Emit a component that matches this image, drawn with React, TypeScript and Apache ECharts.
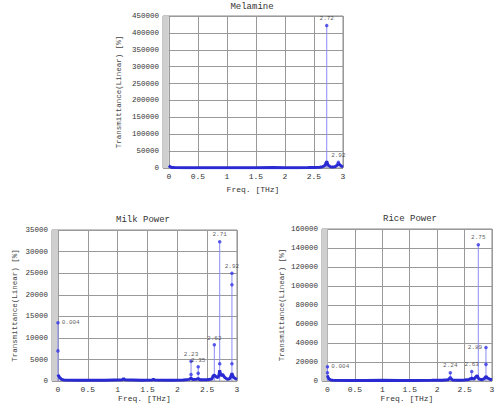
import React, { useEffect, useRef } from "react";
import * as echarts from "echarts";

const FONT = '"Liberation Mono", "DejaVu Sans Mono", monospace';

const xTicks = [0, 0.5, 1, 1.5, 2, 2.5, 3];
const yName = "Transmittance(Linear) [%]";
const xName = "Freq. [THz]";
const titles = ["Melamine", "Milk Power", "Rice Power"];

// Melamine
const melBaseFreq = [0, 0.02, 0.05, 0.1, 0.3, 0.5, 0.8, 1.0, 1.2, 1.5, 1.8, 2.0, 2.2, 2.4, 2.5, 2.6, 2.65, 2.68, 2.7, 2.72, 2.74, 2.78, 2.82, 2.86, 2.9, 2.92, 2.94, 2.97, 3.0];
const melBaseVal = [7000, 4000, 1500, 1200, 1000, 900, 1000, 1100, 900, 1000, 1200, 1100, 1000, 1300, 1500, 2500, 4000, 6000, 12000, 20000, 9000, 4000, 3000, 3500, 8000, 15000, 10000, 6000, 3000];
const melPeakFreq = [2.72];
const melPeakVal = [422000];
const melMarkFreq = [2.72, 2.92];
const melMarkVal = [422000, 17000];
const melMarkLabel = ["2.72", "2.92"];

// Milk Power
const milkBaseFreq = [0, 0.01, 0.03, 0.06, 0.1, 0.3, 0.5, 0.8, 1.08, 1.1, 1.12, 1.4, 1.58, 1.6, 1.62, 1.9, 2.1, 2.2, 2.23, 2.26, 2.32, 2.35, 2.38, 2.5, 2.58, 2.6, 2.62, 2.65, 2.68, 2.7, 2.71, 2.73, 2.76, 2.79, 2.84, 2.88, 2.9, 2.915, 2.94, 2.97, 3.0];
const milkBaseVal = [1500, 1200, 800, 400, 250, 200, 180, 200, 300, 600, 300, 200, 250, 450, 250, 200, 250, 400, 700, 350, 400, 600, 300, 300, 500, 1200, 1400, 1000, 800, 1500, 2500, 1200, 1600, 900, 400, 600, 1200, 1800, 900, 600, 400];
const milkPeakFreq = [0, 2.23, 2.35, 2.62, 2.71, 2.915];
const milkPeakVal = [13500, 4600, 3300, 8400, 32300, 25000];
const milkMarkFreq = [0, 0, 2.23, 2.23, 2.35, 2.35, 2.62, 2.71, 2.71, 2.915, 2.915, 2.915];
const milkMarkVal = [13500, 7000, 4600, 1500, 3300, 1800, 8400, 32300, 4000, 25000, 22300, 4000];
const milkMarkLabel = ["0.004", "", "2.23", "", "2.35", "", "2.62", "2.71", "", "2.92", "", ""];

// Rice Power
const riceBaseFreq = [0, 0.01, 0.03, 0.06, 0.1, 0.4, 0.7, 1.0, 1.3, 1.6, 1.9, 2.1, 2.2, 2.24, 2.28, 2.4, 2.5, 2.58, 2.63, 2.67, 2.7, 2.73, 2.75, 2.78, 2.82, 2.86, 2.89, 2.92, 2.96, 3.0];
const riceBaseVal = [6000, 4000, 2000, 1200, 800, 700, 700, 800, 700, 700, 800, 900, 1500, 3500, 1200, 1000, 1200, 1800, 3000, 2000, 4000, 6000, 3000, 2000, 1500, 2500, 5000, 3000, 2000, 1500];
const ricePeakFreq = [0, 2.24, 2.63, 2.75, 2.89];
const ricePeakVal = [15000, 8800, 10000, 143500, 35400];
const riceMarkFreq = [0, 0, 2.24, 2.24, 2.63, 2.75, 2.89, 2.89];
const riceMarkVal = [15000, 8800, 8800, 3500, 10000, 143500, 35400, 17600];
const riceMarkLabel = ["0.004", "", "2.24", "", "2.63", "2.75", "2.89", ""];

const yMaxes = [450000, 35000, 160000];
const yIntervals = [50000, 5000, 20000];

const panels = [
  { base: [melBaseFreq, melBaseVal], peaks: [melPeakFreq, melPeakVal], marks: [melMarkFreq, melMarkVal, melMarkLabel] },
  { base: [milkBaseFreq, milkBaseVal], peaks: [milkPeakFreq, milkPeakVal], marks: [milkMarkFreq, milkMarkVal, milkMarkLabel] },
  { base: [riceBaseFreq, riceBaseVal], peaks: [ricePeakFreq, ricePeakVal], marks: [riceMarkFreq, riceMarkVal, riceMarkLabel] },
];

const layout = [
  { left: 163, top: 16, width: 180, height: 152, yGap: 40, xGap: 17, tx: 252, ty: 7 },
  { left: 52, top: 230, width: 185, height: 152, yGap: 33, xGap: 12, tx: 143, ty: 220 },
  { left: 322, top: 229, width: 170, height: 153, yGap: 36, xGap: 12, tx: 410, ty: 219 },
];

export default function App() {
  const ref = useRef<HTMLDivElement>(null);
  useEffect(() => {
    if (!ref.current) return;
    const chart = echarts.init(ref.current, undefined, { renderer: "svg" });
    const grid: any[] = [];
    const xAxis: any[] = [];
    const yAxis: any[] = [];
    const series: any[] = [];
    const graphic: any[] = [];
    panels.forEach((p, i) => {
      const L = layout[i];
      grid.push({
        left: L.left, top: L.top, width: L.width, height: L.height,
        show: true, borderColor: "#8a8a8a", borderWidth: 1, backgroundColor: "#fff",
      });
      xAxis.push({
        gridIndex: i, type: "value", min: -0.1, max: 3,
        axisLine: { show: false },
        axisTick: { show: false, customValues: xTicks },
        axisLabel: { customValues: xTicks, fontFamily: FONT, fontSize: 8, color: "#333", margin: 4 },
        splitLine: { show: true, lineStyle: { color: "#9a9a9a", width: 1 } },
        name: xName, nameLocation: "middle", nameGap: L.xGap,
        nameTextStyle: { fontFamily: FONT, fontSize: 8, color: "#333" },
      });
      yAxis.push({
        gridIndex: i, type: "value", min: 0, max: yMaxes[i], interval: yIntervals[i],
        axisLine: { show: false }, axisTick: { show: false },
        axisLabel: { fontFamily: FONT, fontSize: 7.5, color: "#333", margin: 4, formatter: (v: number) => String(v) },
        splitLine: { show: true, lineStyle: { color: "#9a9a9a", width: 1 } },
        name: yName, nameLocation: "middle", nameGap: L.yGap,
        nameTextStyle: { fontFamily: FONT, fontSize: 7.5, color: "#444" },
      });
      const [bf, bv] = p.base;
      series.push({
        type: "line", xAxisIndex: i, yAxisIndex: i, z: 4,
        data: bf.map((f, k) => [f, bv[k]]),
        symbol: "none", lineStyle: { color: "#2a2ad2", width: 3 },
        markArea: {
          silent: true,
          itemStyle: { color: "#cfcfcf" },
          data: [[{ xAxis: -0.1 }, { xAxis: 0 }]],
        },
      });
      const [pf, pv] = p.peaks;
      series.push({
        type: "bar", xAxisIndex: i, yAxisIndex: i, z: 3,
        barWidth: 1, data: pf.map((f, k) => [f, pv[k]]),
        itemStyle: { color: "#8c8cf5" },
      });
      const [mf, mv, ml] = p.marks as any;
      series.push({
        type: "scatter", xAxisIndex: i, yAxisIndex: i, z: 5,
        symbol: "circle", symbolSize: 3.5,
        itemStyle: { color: "#3434e6" },
        data: (mf as number[]).map((f, k) => ({
          value: [f, mv[k]],
          name: ml[k],
          label: {
            show: ml[k] !== "",
            position: f < 0.1 ? "right" : (i === 2 && f > 2.85 ? "left" : "top"),
            distance: 2,
            formatter: "{b}",
            fontFamily: FONT,
            fontSize: 6,
            color: "#333",
          },
        })),
      });
      graphic.push({
        type: "text", x: L.tx, y: L.ty,
        style: { text: titles[i], textAlign: "center", textVerticalAlign: "middle", font: `9px ${FONT}`, fill: "#333" },
      });
    });
    chart.setOption({
      animation: false,
      backgroundColor: "#fff",
      grid, xAxis, yAxis, series, graphic,
    });
    return () => chart.dispose();
  }, []);
  return <div ref={ref} style={{ position: "fixed", left: 0, top: 0, width: 520, height: 403 }} />;
}
